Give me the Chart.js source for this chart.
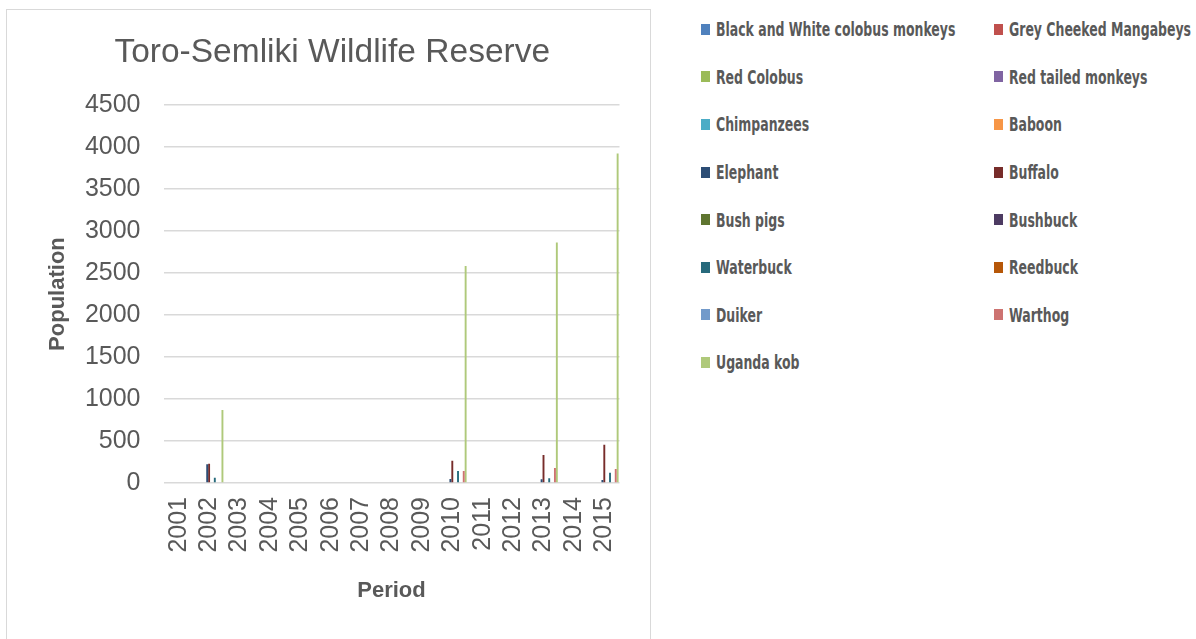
<!DOCTYPE html>
<html>
<head>
<meta charset="utf-8">
<title>Toro-Semliki Wildlife Reserve</title>
<script src="https://cdn.jsdelivr.net/npm/chart.js@4.4.1/dist/chart.umd.min.js"></script>
<style>
  html, body { margin: 0; padding: 0; background: #ffffff; }
  body { width: 1196px; height: 639px; position: relative; overflow: hidden; }
  #frame {
    position: absolute; left: 6px; top: 9px; width: 645px; height: 700px;
    border: 1.5px solid #d9d9d9; box-sizing: border-box;
  }
  #chart { position: absolute; left: 0; top: 0; }
  #legend {
    position: absolute; left: 701px; top: 5.5px;
    display: grid; grid-template-columns: 293px 200px; grid-auto-rows: 47.6px;
    font-family: "Liberation Sans Narrow", "DejaVu Sans Condensed", "Liberation Sans", sans-serif;
    font-weight: bold; font-size: 19px; color: #595959;
  }
  .item { display: flex; align-items: center; white-space: nowrap; }
  .swatch { width: 9px; height: 11px; margin-right: 6px; flex: none; }
  .name { display: inline-block; transform: scaleX(0.73); transform-origin: 0 50%; }
</style>
</head>
<body>
<div id="frame"></div>
<canvas id="chart" width="660" height="639"></canvas>
<div id="legend"></div>
<script>
// Survey years
const years = ['2001','2002','2003','2004','2005','2006','2007','2008','2009','2010','2011','2012','2013','2014','2015'];

// Population counts per species, one value per survey year
const blackWhiteColobus   = [0, 0, 0, 0, 0, 0, 0, 0, 0, 0, 0, 0, 0, 0, 0];
const greyCheekedMangabey = [0, 0, 0, 0, 0, 0, 0, 0, 0, 0, 0, 0, 0, 0, 0];
const redColobus          = [0, 0, 0, 0, 0, 0, 0, 0, 0, 0, 0, 0, 0, 0, 0];
const redTailedMonkeys    = [0, 0, 0, 0, 0, 0, 0, 0, 0, 0, 0, 0, 0, 0, 0];
const chimpanzees         = [0, 0, 0, 0, 0, 0, 0, 0, 0, 0, 0, 0, 0, 0, 0];
const baboon              = [0, 0, 0, 0, 0, 0, 0, 0, 0, 0, 0, 0, 0, 0, 0];
const elephant            = [0, 222, 0, 0, 0, 0, 0, 0, 0, 48, 0, 0, 44, 0, 36];
const buffalo             = [0, 230, 0, 0, 0, 0, 0, 0, 0, 266, 0, 0, 333, 0, 456];
const bushPigs            = [0, 0, 0, 0, 0, 0, 0, 0, 0, 0, 0, 0, 0, 0, 0];
const bushbuck            = [0, 0, 0, 0, 0, 0, 0, 0, 0, 0, 0, 0, 0, 0, 0];
const waterbuck           = [0, 63, 0, 0, 0, 0, 0, 0, 0, 143, 0, 0, 56, 0, 123];
const reedbuck            = [0, 0, 0, 0, 0, 0, 0, 0, 0, 0, 0, 0, 0, 0, 0];
const duiker              = [0, 0, 0, 0, 0, 0, 0, 0, 0, 0, 0, 0, 0, 0, 0];
const warthog             = [0, 0, 0, 0, 0, 0, 0, 0, 0, 143, 0, 0, 179, 0, 167];
const ugandaKob           = [0, 869, 0, 0, 0, 0, 0, 0, 0, 2583, 0, 0, 2865, 0, 3925];

const seriesNames = [
  'Black and White colobus monkeys', 'Grey Cheeked Mangabeys', 'Red Colobus', 'Red tailed monkeys',
  'Chimpanzees', 'Baboon', 'Elephant', 'Buffalo', 'Bush pigs', 'Bushbuck', 'Waterbuck', 'Reedbuck',
  'Duiker', 'Warthog', 'Uganda kob'
];
const seriesValues = [
  blackWhiteColobus, greyCheekedMangabey, redColobus, redTailedMonkeys, chimpanzees, baboon,
  elephant, buffalo, bushPigs, bushbuck, waterbuck, reedbuck, duiker, warthog, ugandaKob
];
const seriesColors = [
  '#4f81bd', '#c0504d', '#9bbb59', '#8064a2', '#4bacc6', '#f79646', '#2c4d75', '#772c2a',
  '#5f7530', '#4d3b62', '#276a7c', '#b65708', '#729aca', '#cd7371', '#afc97a'
];

const yTicks = { min: 0, max: 4500, step: 500 };

const textColor = '#595959';
const baseFont = 'Liberation Sans';

const datasets = seriesNames.map((name, i) => ({
  label: name,
  data: seriesValues[i],
  backgroundColor: seriesColors[i],
  borderWidth: 0,
  categoryPercentage: 0.94,
  barPercentage: 1.0
}));

new Chart(document.getElementById('chart'), {
  type: 'bar',
  data: { labels: years, datasets },
  options: {
    responsive: false,
    animation: false,
    devicePixelRatio: 1,
    layout: { padding: { left: 45, right: 40.5, top: 0, bottom: 35 } },
    plugins: {
      legend: { display: false },
      tooltip: { enabled: false },
      title: {
        display: true,
        text: 'Toro-Semliki Wildlife Reserve',
        color: textColor,
        font: { family: baseFont, size: 33.5, weight: 'normal', lineHeight: 1.2 },
        padding: { top: 32.9, bottom: 32 }
      }
    },
    scales: {
      x: {
        grid: { display: false, drawTicks: false },
        border: { display: false },
        ticks: {
          autoSkip: false, minRotation: 90, maxRotation: 90, padding: 14,
          color: textColor, font: { family: baseFont, size: 25 }
        },
        title: {
          display: true, text: 'Period', color: textColor, padding: 0,
          font: { family: baseFont, size: 22, weight: 'bold', lineHeight: 1.2 }
        },
        afterFit(scale) { scale.height = 121; }
      },
      y: {
        min: yTicks.min, max: yTicks.max,
        ticks: {
          stepSize: yTicks.step, padding: 23,
          color: textColor, font: { family: baseFont, size: 25 },
          callback: (v) => String(v)
        },
        grid: { color: '#d9d9d9', lineWidth: 1.5, drawTicks: false },
        border: { display: false },
        title: {
          display: true, text: 'Population', color: textColor, padding: 0,
          font: { family: baseFont, size: 22, weight: 'bold', lineHeight: 1.2 }
        },
        afterFit(scale) { scale.width = 118.5; }
      }
    }
  }
});

// Two-column legend beside the plot
const legend = document.getElementById('legend');
seriesNames.forEach((name, i) => {
  const item = document.createElement('div');
  item.className = 'item';
  const sw = document.createElement('span');
  sw.className = 'swatch';
  sw.style.background = seriesColors[i];
  const label = document.createElement('span');
  label.className = 'name';
  label.textContent = name;
  item.appendChild(sw);
  item.appendChild(label);
  legend.appendChild(item);
});
</script>
</body>
</html>
